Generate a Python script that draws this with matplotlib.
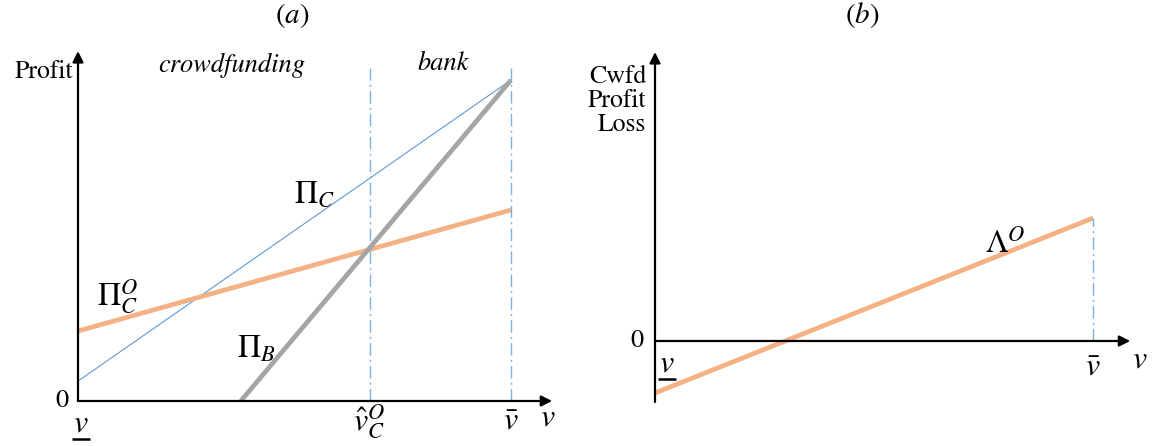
import matplotlib
matplotlib.use("Agg")
import matplotlib.pyplot as plt
import numpy as np

plt.rcParams['mathtext.fontset'] = 'stix'
plt.rcParams['font.family'] = ['STIXGeneral', 'Liberation Serif', 'DejaVu Serif']

W, H = 1154, 446

# ---- data (v normalised: v_lower = 0, v_bar = 1) ----
v_lower, v_bar = 0.0, 1.0
v_hat = 0.674           # crowdfunding / bank threshold
v_B0 = 0.376            # where Pi_B becomes zero
pi_C_v = [v_lower, v_bar]
pi_C = [0.062, 1.0]
pi_CO_v = [v_lower, v_bar]
pi_CO = [0.218, 0.595]
pi_B_v = [v_B0, v_bar]
pi_B = [0.0, 1.0]
lam_v = [v_lower, v_bar]
lam = [-0.162, 0.383]

ORANGE = '#F4B183'
GRAY = '#A5A5A5'
BLUE = '#5B9BD5'
DASHBLUE = '#7FB0DE'
DASH = (0, (9, 3, 1.5, 3))


def make_axes(fig, px0, px1, py0, py1, ox, sx, oy, sy):
    """axes covering pixel box; data x=(px-ox)/sx, y=(oy-py)/sy"""
    ax = fig.add_axes([px0 / W, 1 - py1 / H, (px1 - px0) / W, (py1 - py0) / H])
    ax.set_xlim((px0 - ox) / sx, (px1 - ox) / sx)
    ax.set_ylim((oy - py1) / sy, (oy - py0) / sy)
    ax.axis('off')
    return ax


def arrow(ax, x0, y0, x1, y1):
    ax.annotate('', xy=(x1, y1), xytext=(x0, y0),
                arrowprops=dict(arrowstyle='-|>', color='black', lw=1.6,
                                mutation_scale=16, shrinkA=0, shrinkB=0))


def underline_v(ax, x, y, yl, half, fs):
    ax.text(x, y, r'$v$', fontsize=fs, ha='center', va='center')
    ax.plot([x - half, x + half], [yl, yl], color='black', lw=1.8,
            solid_capstyle='butt', clip_on=False)


fig = plt.figure(figsize=(W / 100, H / 100), dpi=100)

# ================= panel (a) =================
axa = make_axes(fig, 0, 575, 45, 446, 78, 433, 401, 321)
axa.plot(pi_C_v, pi_C, color=BLUE, lw=0.8)
axa.plot(pi_CO_v, pi_CO, color=ORANGE, lw=3.4, solid_capstyle='butt')
axa.plot(pi_B_v, pi_B, color=GRAY, lw=3.4, solid_capstyle='butt')
for xv in (v_hat, v_bar):
    axa.plot([xv, xv], [0, 1.037], color=DASHBLUE, lw=1.0, ls=DASH)
arrow(axa, 0, 0, 1.095, 0)
arrow(axa, 0, 0, 0, 1.09)

axa.text(-0.012, 1.026, 'Profit', fontsize=18.5, ha='right', va='center')
axa.text(0.356, 1.044, 'crowdfunding', fontsize=19, style='italic', ha='center', va='center')
axa.text(0.843, 1.05, 'bank', fontsize=19, style='italic', ha='center', va='center')
axa.text(0.547, 0.642, r'$\Pi_C$', fontsize=23, ha='center', va='center')
axa.text(0.092, 0.324, r'$\Pi_C^O$', fontsize=23, ha='center', va='center')
axa.text(0.413, 0.159, r'$\Pi_B$', fontsize=23, ha='center', va='center')
axa.text(-0.037, 0.0, '0', fontsize=19, ha='center', va='center')
underline_v(axa, 0.007, -0.072, -0.118, 0.02, 23)
axa.text(v_hat - 0.002, -0.065, r'$\hat{v}_C^O$', fontsize=23, ha='center', va='center')
axa.text(v_bar, -0.064, r'$\bar{v}$', fontsize=23, ha='center', va='center')
axa.text(1.085, -0.053, r'$v$', fontsize=23, ha='center', va='center')

# ================= panel (b) =================
axb = make_axes(fig, 600, 1154, 45, 446, 655, 438, 341, 321)
axb.plot(lam_v, lam, color=ORANGE, lw=3.4, solid_capstyle='butt')
axb.plot([v_bar, v_bar], [0, lam[1]], color=DASHBLUE, lw=1.0, ls=DASH)
arrow(axb, 0, 0, 1.085, 0)
arrow(axb, 0, -0.19, 0, 0.90)

axb.text(-0.02, 0.748, 'Cwfd\nProfit\nLoss', fontsize=18.5, ha='right', va='center',
         linespacing=1.0, multialignment='right')
axb.text(-0.041, 0.0, '0', fontsize=19, ha='center', va='center')
underline_v(axb, 0.027, -0.072, -0.118, 0.02, 23)
axb.text(0.80, 0.30, r'$\Lambda^O$', fontsize=23, ha='center', va='center')
axb.text(v_bar, -0.082, r'$\bar{v}$', fontsize=23, ha='center', va='center')
axb.text(1.107, -0.06, r'$v$', fontsize=23, ha='center', va='center')

# panel titles
fig.text(292 / W, 1 - 15 / H, r'$(a)$', fontsize=21, ha='center', va='center')
fig.text(862 / W, 1 - 15 / H, r'$(b)$', fontsize=21, ha='center', va='center')

fig.savefig('out.png', dpi=100)
